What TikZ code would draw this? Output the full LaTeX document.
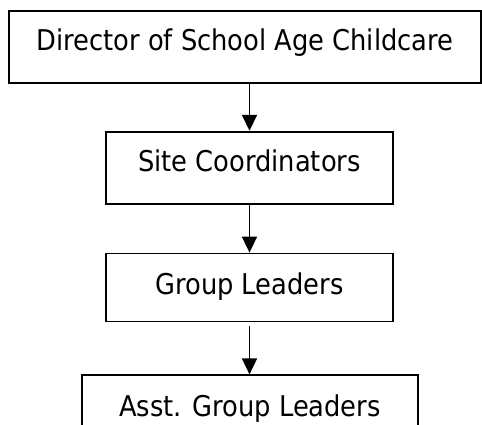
\documentclass[tikz,border=0pt]{standalone}
\usepackage{fontspec}
\setmainfont{DejaVu Sans Condensed}
\usetikzlibrary{positioning,arrows.meta}

\begin{document}
\begin{tikzpicture}[
    x=1pt, y=-1pt,
    role/.style={draw, line width=1.8pt, inner sep=0pt, anchor=north,
        font=\fontsize{28.6}{30}\selectfont, text height=40pt, text depth=32pt},
    link/.style={line width=1.8pt, -{Triangle[width=15pt,length=16pt]}}
]
\useasboundingbox (0,0) rectangle (482,425);
\node[role, minimum width=472pt] (director) at (245,10) {Director of School Age Childcare};
\node[role, minimum width=287pt, below=47pt of director, xshift=4.5pt] (site) {Site Coordinators};
\node[role, minimum width=287pt, below=48pt of site, text height=41pt, text depth=27pt] (group) {Group Leaders};
\node[role, minimum width=336pt, below=52pt of group, xshift=0.5pt, text height=41pt, text depth=35pt] (asst) {Asst. Group Leaders};

\draw[link] (site.north |- director.south) -- (site.north);
\draw[link] (site) -- (group);
\draw[link, shorten <=4pt] (group.south) -- (group.south |- asst.north);
\end{tikzpicture}
\end{document}
